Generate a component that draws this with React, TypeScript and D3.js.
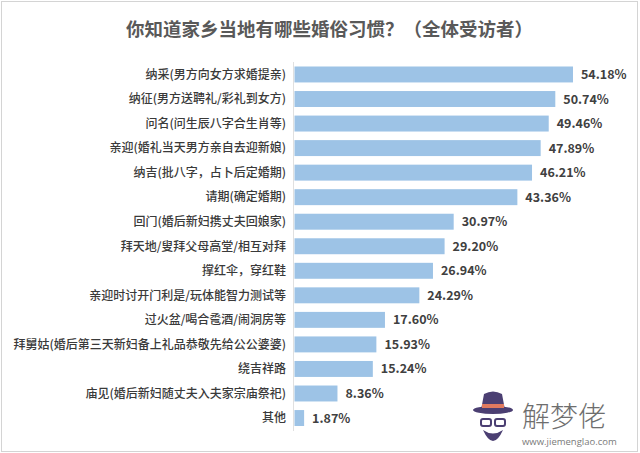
import React from "react";
import * as d3 from "d3";

const categories = [
  "纳采(男方向女方求婚提亲)",
  "纳征(男方送聘礼/彩礼到女方)",
  "问名(问生辰八字合生肖等)",
  "亲迎(婚礼当天男方亲自去迎新娘)",
  "纳吉(批八字，占卜后定婚期)",
  "请期(确定婚期)",
  "回门(婚后新妇携丈夫回娘家)",
  "拜天地/叟拜父母高堂/相互对拜",
  "撑红伞，穿红鞋",
  "亲迎时讨开门利是/玩体能智力测试等",
  "过火盆/喝合卺酒/闹洞房等",
  "拜舅姑(婚后第三天新妇备上礼品恭敬先给公公婆婆)",
  "绕吉祥路",
  "庙见(婚后新妇随丈夫入夫家宗庙祭祀)",
  "其他",
];
const values = [54.18, 50.74, 49.46, 47.89, 46.21, 43.36, 30.97, 29.2, 26.94, 24.29, 17.6, 15.93, 15.24, 8.36, 1.87];
const title = "你知道家乡当地有哪些婚俗习惯？（全体受访者）";

const W = 640;
const H = 453;
const FONT = "'Noto Sans CJK SC', 'Noto Sans', sans-serif";

export default function App() {
  const x = d3.scaleLinear().domain([0, 60]).range([294.5, 294.5 + 60 * 5.14]);
  const y = d3
    .scaleBand<string>()
    .domain(categories)
    .range([62.2, 430.3])
    .paddingInner(0.35)
    .paddingOuter(0.175);
  const bw = y.bandwidth();

  return (
    <svg
      width={W}
      height={H}
      style={{ position: "absolute", left: 0, top: 0, background: "#fff" }}
      fontFamily={FONT}
    >
      <rect x={1.5} y={1.5} width={636} height={450} fill="#fff" stroke="#d4d4d4" strokeWidth={1} />
      <text
        x={329.5}
        y={36}
        textAnchor="middle"
        fontSize={18.5}
        fontWeight="bold"
        fill="#595959"
      >
        {title}
      </text>
      <line x1={293.5} x2={293.5} y1={62} y2={431} stroke="#e0e0e0" strokeWidth={1} />
      {categories.map((c, i) => {
        const yy = y(c)!;
        const v = values[i];
        return (
          <g key={c}>
            <rect x={x(0)} y={yy} width={x(v) - x(0)} height={bw} fill="#9DC3E6" />
            <text
              x={286}
              y={yy + bw / 2}
              dy="0.36em"
              textAnchor="end"
              fontSize={12}
              fontWeight={500}
              fill="#3a3a3a"
            >
              {c}
            </text>
            <text
              x={x(v) + 8}
              y={yy + bw / 2}
              dy="0.36em"
              fontSize={12.5}
              fontWeight="bold"
              fill="#404040"
            >
              {v.toFixed(2) + "%"}
            </text>
          </g>
        );
      })}
      {/* watermark */}
      <g>
        <ellipse cx={493} cy={410} rx={20} ry={4} fill="#4b3f72" />
        <path d="M481,410 L484,394 Q493,389 502,394 L505,410 Z" fill="#4b3f72" />
        <rect x={482} y={404} width={22} height={4} fill="#e07a5f" />
        <rect x={481} y={419} width={10} height={7} rx={2} fill="none" stroke="#4b3f72" strokeWidth={2} />
        <rect x={495} y={419} width={10} height={7} rx={2} fill="none" stroke="#4b3f72" strokeWidth={2} />
        <path d="M483,430 Q493,452 503,430 Q493,437 483,430 Z" fill="#4b3f72" />
        <text x={522} y={427} fontSize={28} fill="#6e6e6e" fontWeight={300}>
          解梦佬
        </text>
        <text x={522} y={445} fontSize={9.5} fill="#7a7a7a" fontFamily="'Open Sans', sans-serif">
          www.jiemenglao.com
        </text>
      </g>
    </svg>
  );
}
